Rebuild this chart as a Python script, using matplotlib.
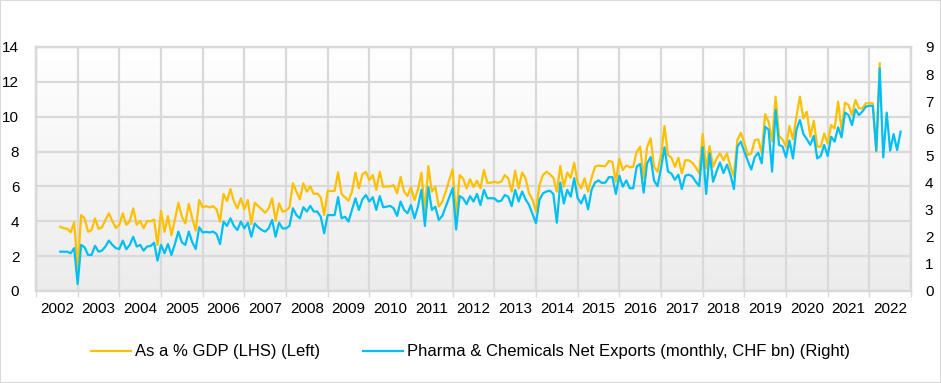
import numpy as np
import matplotlib
matplotlib.use("Agg")
import matplotlib.pyplot as plt
from matplotlib.patches import Rectangle
from matplotlib.lines import Line2D

plt.rcParams['font.family'] = ['Liberation Sans', 'DejaVu Sans']

# monthly series, first value = Jul 2002
start_year, start_month = 2002, 7

gdp_share = [
    # Jul 2002 - Nov 2005
    3.69, 3.6, 3.57, 3.37, 3.94, 1.3, 4.36, 4.17, 3.4, 3.5, 4.17, 3.57, 3.65, 4.08,
    4.46, 4.0, 3.62, 3.8, 4.46, 3.8, 4.0, 4.74, 3.8, 4.02, 3.6, 4.02, 4.0, 4.1,
    2.64, 4.6, 3.4, 4.3, 3.2, 4.08, 5.07, 4.27, 3.88, 5.0, 4.17, 3.47, 5.22,
    # Dec 2005 - Apr 2009
    4.8, 4.87, 4.8, 4.87, 4.69, 3.98, 5.57, 5.16, 5.85, 5.14, 4.74, 5.32, 4.69, 5.22,
    3.84, 5.07, 4.87, 4.69, 4.49, 4.74, 5.32, 4.03, 5.03, 4.55, 4.6, 4.8, 6.18, 5.7,
    5.26, 6.18, 5.7, 6.0, 5.57, 5.6, 5.37, 4.36, 5.74, 5.74, 5.74, 6.81, 5.57,
    # May 2009 - Jun 2012
    5.37, 5.18, 5.7, 6.79, 5.89, 6.7, 6.84, 6.36, 6.65, 5.8, 6.84, 5.97, 6.0, 6.0,
    6.07, 5.6, 6.55, 5.7, 5.45, 5.97, 5.22, 5.8, 6.79, 4.55, 7.17, 5.7, 5.97, 4.84,
    5.12, 5.7, 6.36, 6.98, 4.2, 6.65, 6.46, 5.89, 6.41, 5.97,
    # Jul 2012 - Feb 2016
    6.33, 5.89, 6.94, 6.21, 6.21, 6.27, 6.21, 6.27, 6.65, 6.46, 5.7, 6.9, 5.89, 6.8,
    6.46, 5.6, 5.24, 4.55, 6.08, 6.65, 6.84, 6.7, 6.5, 5.7, 7.17, 5.99, 6.8, 6.5,
    7.36, 6.21, 5.89, 6.46, 5.7, 6.5, 7.13, 7.2, 7.17, 7.17, 7.46, 7.4, 6.27, 7.6,
    6.94, 7.2,
    # Mar 2016 - Jul 2019
    7.1, 7.13, 7.99, 8.28, 6.47, 8.26, 8.76, 7.13, 6.84, 7.8, 9.47, 7.8, 7.65, 7.13,
    7.65, 6.75, 7.5, 7.5, 7.36, 7.1, 6.75, 9.0, 7.03, 8.3, 7.13, 7.6, 7.9, 7.5,
    7.9, 7.13, 6.6, 8.66, 9.08, 8.51, 7.8, 7.9, 8.66, 8.7, 7.9, 10.15, 9.7,
    # Aug 2019 - Mar 2022
    8.6, 11.15, 8.89, 8.7, 8.28, 9.47, 8.7, 10.0, 11.15, 9.9, 10.28, 8.85, 9.77, 8.28,
    8.28, 9.04, 8.47, 9.52, 9.33, 10.87, 9.24, 10.8, 10.67, 10.1, 10.96, 10.48, 10.48,
    10.77, 10.77, 10.77, 8.0, 13.06,
]

net_exports = [
    # Jul 2002 - Nov 2005
    1.45, 1.45, 1.45, 1.39, 1.58, 0.26, 1.7, 1.61, 1.33, 1.33, 1.67, 1.45, 1.49, 1.64,
    1.86, 1.7, 1.58, 1.55, 1.86, 1.54, 1.7, 2.0, 1.64, 1.7, 1.49, 1.64, 1.66, 1.78,
    1.12, 1.7, 1.39, 1.73, 1.33, 1.73, 2.19, 1.8, 1.7, 2.19, 1.8, 1.55, 2.35,
    # Dec 2005 - Apr 2009
    2.16, 2.18, 2.16, 2.19, 2.1, 1.73, 2.56, 2.4, 2.68, 2.4, 2.25, 2.56, 2.31, 2.52,
    2.0, 2.49, 2.35, 2.25, 2.19, 2.31, 2.62, 2.0, 2.52, 2.31, 2.31, 2.4, 3.05, 2.8,
    2.68, 3.09, 2.93, 3.14, 2.93, 2.93, 2.74, 2.13, 2.8, 2.8, 2.8, 3.46, 2.68,
    # May 2009 - Jun 2012
    2.74, 2.56, 2.99, 3.42, 2.99, 3.38, 3.54, 3.3, 3.46, 2.99, 3.5, 3.09, 3.11, 3.14,
    3.05, 2.77, 3.3, 2.99, 2.87, 3.17, 2.68, 3.11, 3.73, 2.4, 3.83, 2.99, 3.11, 2.62,
    2.77, 3.11, 3.46, 3.79, 2.27, 3.5, 3.42, 3.2, 3.5, 3.3,
    # Jul 2012 - Feb 2016
    3.58, 3.17, 3.73, 3.42, 3.42, 3.42, 3.3, 3.33, 3.54, 3.48, 3.13, 3.73, 3.3, 3.67,
    3.38, 3.17, 2.84, 2.5, 3.36, 3.6, 3.67, 3.7, 3.58, 2.52, 4.0, 3.23, 3.73, 3.48,
    4.16, 3.42, 3.23, 3.54, 3.01, 3.73, 4.0, 4.08, 3.98, 4.0, 4.2, 4.2, 3.58, 4.25,
    3.85, 4.08,
    # Mar 2016 - Jul 2019
    3.79, 3.79, 4.59, 4.69, 3.63, 4.71, 4.94, 4.07, 3.87, 4.53, 5.3, 4.41, 4.33, 4.1,
    4.29, 3.76, 4.25, 4.29, 4.23, 4.03, 3.87, 5.3, 3.58, 5.08, 4.03, 4.41, 4.74, 4.35,
    4.66, 4.29, 3.76, 5.33, 5.51, 5.14, 4.8, 4.48, 4.94, 5.1, 4.71, 6.06, 5.94,
    # Aug 2019 - Sep 2022
    4.4, 6.68, 5.39, 5.33, 4.93, 5.55, 4.89, 5.94, 6.31, 5.79, 5.6, 5.39, 5.72, 4.89,
    4.98, 5.39, 4.98, 5.69, 5.51, 6.04, 5.67, 6.58, 6.49, 6.12, 6.7, 6.49, 6.62, 6.8,
    6.83, 6.83, 5.18, 8.22, 4.93, 6.58, 5.18, 5.79, 5.2, 5.88,
]

years = list(range(2002, 2023))
label_left = "As a % GDP (LHS) (Left)"
label_right = "Pharma & Chemicals Net Exports (monthly, CHF bn) (Right)"

yellow = "#FFC000"
cyan = "#00BFF3"
grid_c = "#D9D9D9"

# month-end positions in fractional years
x0 = start_year + start_month / 12
x_gdp = x0 + np.arange(len(gdp_share)) / 12
x_exp = x0 + np.arange(len(net_exports)) / 12

fig = plt.figure(figsize=(9.41, 3.83), dpi=100)
ax = fig.add_axes([36 / 941, 92 / 383, 875 / 941, 244 / 383])
ax2 = ax.twinx()

# gradient background
grad = np.linspace(1.0, 0.925, 256).reshape(-1, 1)
ax.imshow(np.dstack([grad, grad, grad]), extent=[2002, 2023, 0, 14], aspect='auto',
          zorder=0, interpolation='bilinear')

ax.plot(x_gdp, gdp_share, color=yellow, lw=1.6, zorder=3)
ax2.plot(x_exp, net_exports, color=cyan, lw=1.6, zorder=3)

ax.set_xlim(2002, 2023)
ax.set_ylim(0, 14)
ax2.set_ylim(0, 9)

ax.set_yticks(range(0, 15, 2))
ax2.set_yticks(range(0, 10))
ax.set_xticks(range(2002, 2024))
ax.set_xticklabels([])
ax.set_xticks([y + 0.5 for y in years], minor=True)
ax.set_xticklabels([str(y) for y in years], minor=True)

ax.grid(True, which='major', color=grid_c, lw=1.6, zorder=1)
ax.set_axisbelow(True)

ax.tick_params(axis='x', which='major', length=4, width=1, color=grid_c, direction='out')
ax.tick_params(axis='x', which='minor', length=0, pad=8, labelsize=11, labelcolor='#000000')
ax.tick_params(axis='y', length=0, pad=12, labelsize=11)
ax2.tick_params(axis='y', length=0, pad=10, labelsize=11)

for a in (ax, ax2):
    for s in a.spines.values():
        s.set_color(grid_c)
        s.set_linewidth(1.6)

handles = [Line2D([], [], color=yellow, lw=1.6), Line2D([], [], color=cyan, lw=1.6)]
fig.legend(handles, [label_left, label_right], loc='center', bbox_to_anchor=(0.5, 0.081),
           ncol=2, frameon=False, fontsize=12, handlelength=2.4, handletextpad=0.25,
           columnspacing=2.6)

fig.patches.append(Rectangle((0, 0), 1, 1, transform=fig.transFigure, fill=False,
                             edgecolor=grid_c, lw=1.5))

fig.savefig("out.png", dpi=100)
